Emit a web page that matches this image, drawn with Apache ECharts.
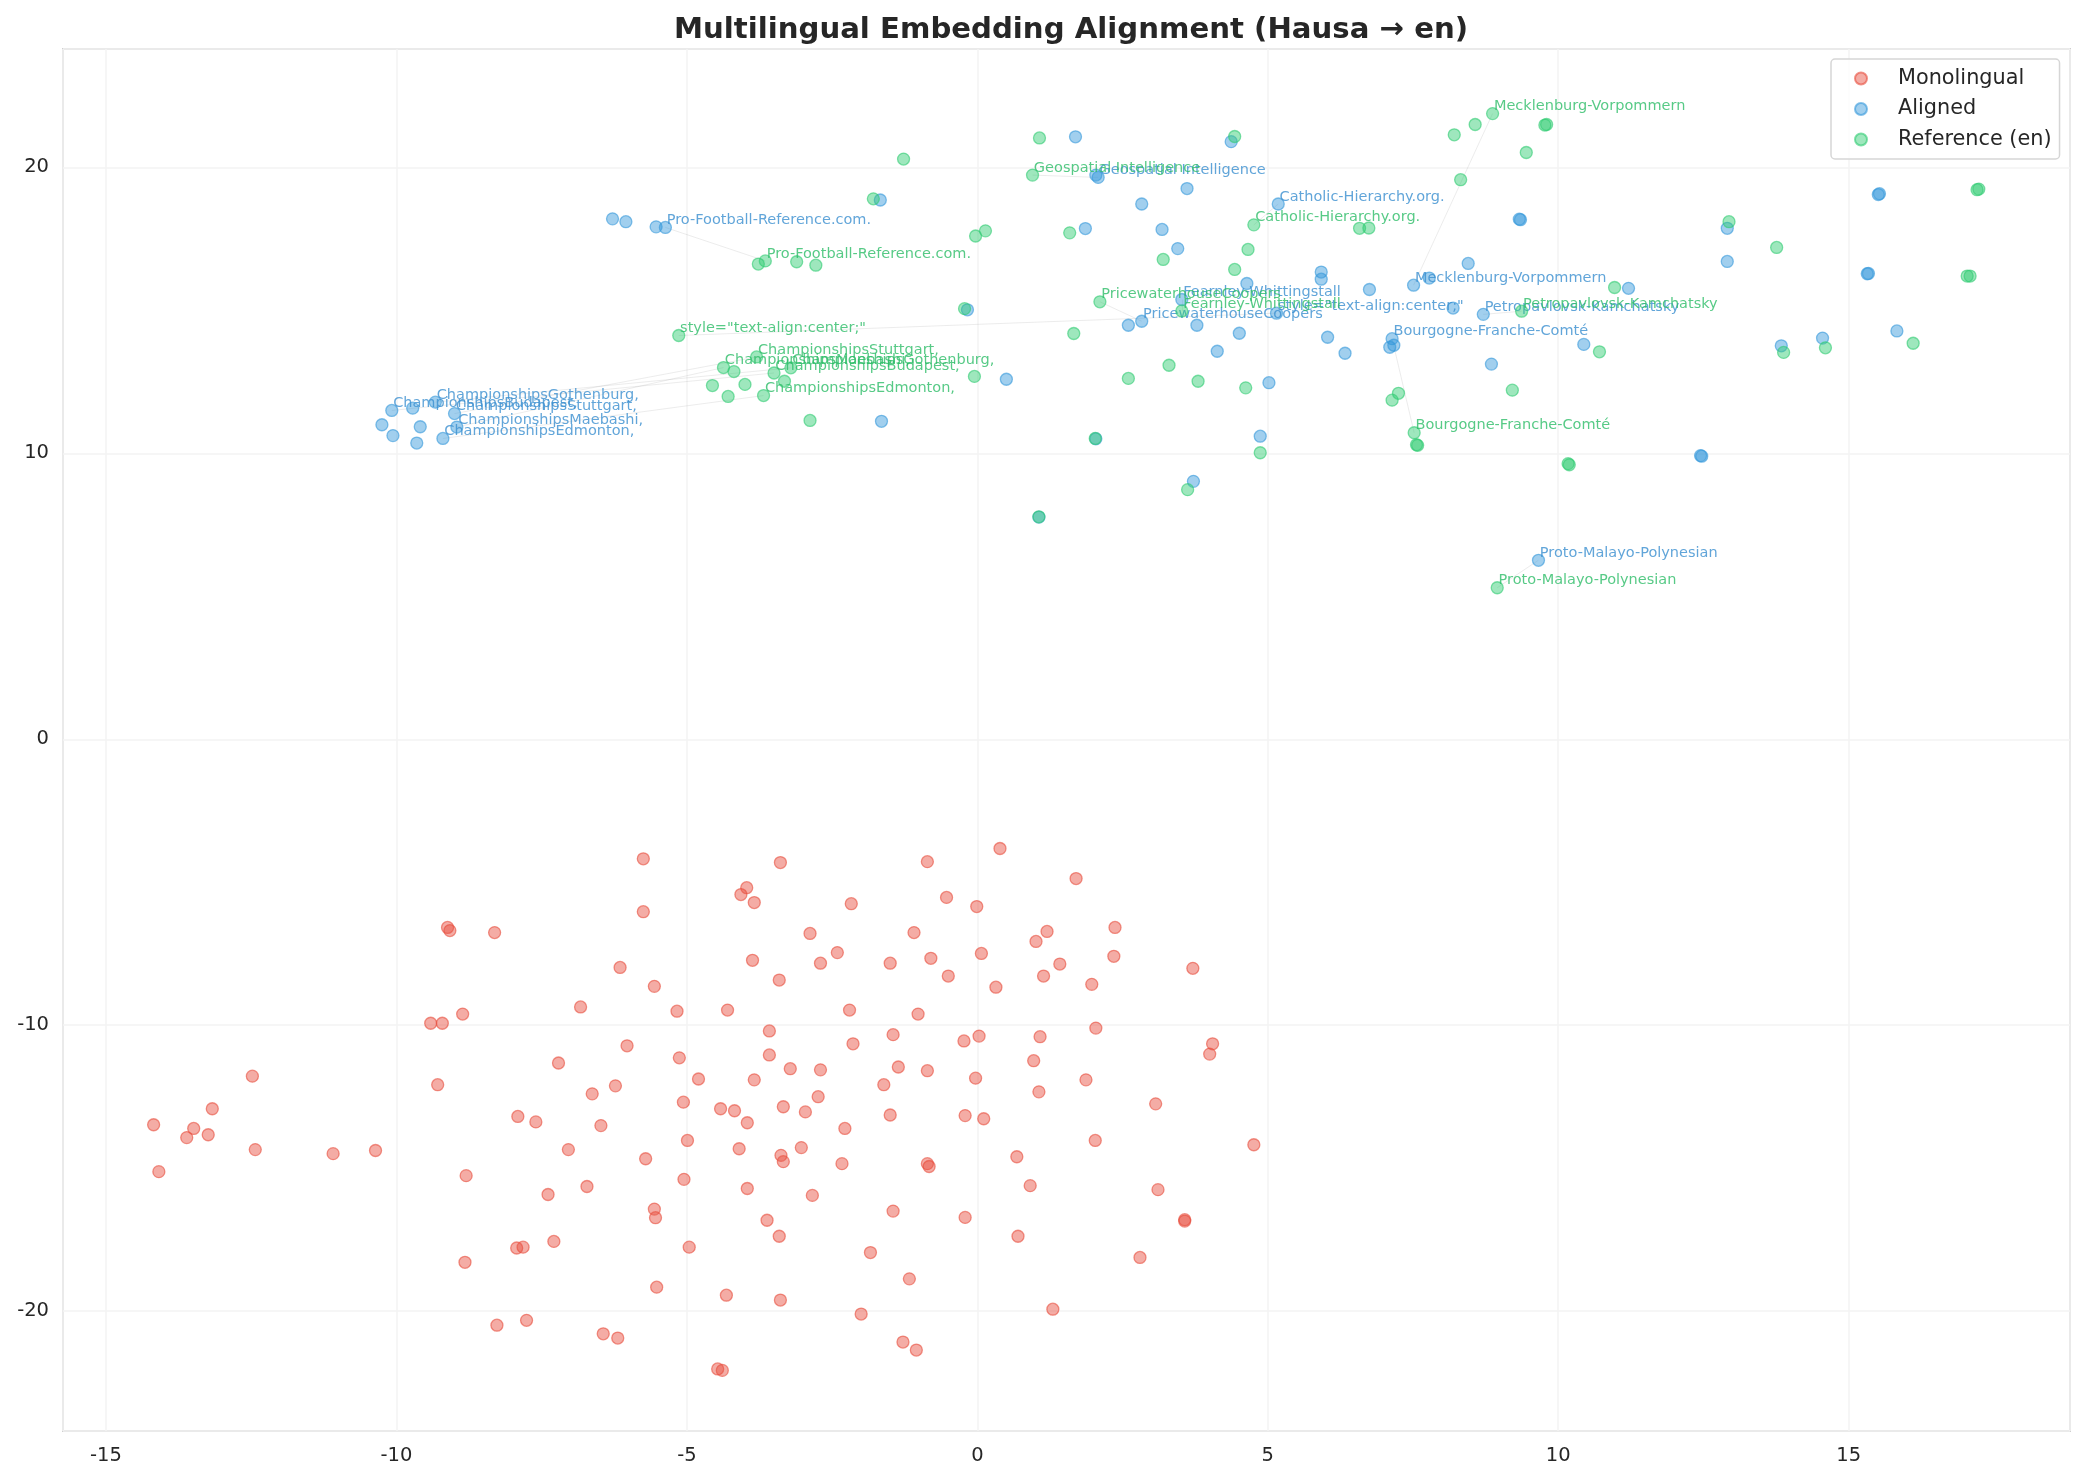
<!DOCTYPE html>
<html><head><meta charset="utf-8">
<script src="https://cdn.jsdelivr.net/npm/echarts@6/dist/echarts.min.js"></script>
<style>html,body{margin:0;padding:0;background:#fff}#c{width:2085px;height:1483px}</style>
</head><body><div id="c"></div>
<script>
// ---- Monolingual (Hausa) points ----
const monoX = [-5.75,-5.75,-9.12,-9.08,-8.31,-6.15,-5.56,-6.83,-5.17,-8.86,-9.41,-9.21,-6.03,-5.13,-7.21,-12.48,-9.29,-6.23,-4.80,-6.63,-5.06,-13.17,-7.91,-14.18,-7.60,-13.49,-6.48,-13.61,-13.24,-4.99,-12.43,-11.09,-10.36,-7.04,-5.71,-14.09,-8.80,-5.05,-6.72,-7.39,-5.56,-5.54,-7.29,-7.93,-7.82,-4.96,-8.82,-5.52,-8.27,-7.76,-6.44,-6.19,
-3.39,-0.86,0.39,1.70,-3.97,-4.07,-3.84,-2.17,-0.53,-0.01,-2.88,-1.09,1.20,1.01,2.37,-3.87,-2.70,-2.41,-1.50,-0.80,0.07,1.42,2.35,3.71,-3.41,-0.50,1.14,0.32,1.97,-4.30,-2.20,-1.02,-3.58,-1.45,-2.14,-0.23,0.03,1.08,2.04,4.05,4.00,-3.58,-3.22,-2.70,-1.36,-0.86,0.97,-3.84,-1.61,-0.03,1.87,1.06,-2.74,-4.42,-4.18,-3.34,-2.96,-3.96,-1.50,-0.21,0.11,3.07,-2.28,-4.10,-3.38,-3.34,-3.03,-2.33,-0.86,-0.83,0.68,2.03,4.76,-3.96,-2.84,0.91,3.11,-1.45,-0.21,-3.62,-3.41,0.70,3.57,3.57,-1.84,2.80,-1.17,-4.32,-3.39,-2.00,1.30,-1.28,-1.05,-4.47,-4.39];
const monoY = [-4.18,-6.03,-6.58,-6.69,-6.76,-7.98,-8.64,-9.36,-9.51,-9.61,-9.93,-9.93,-10.72,-11.14,-11.32,-11.78,-12.08,-12.12,-11.88,-12.40,-12.69,-12.92,-13.19,-13.48,-13.38,-13.61,-13.51,-13.93,-13.83,-14.03,-14.35,-14.49,-14.38,-14.35,-14.67,-15.12,-15.26,-15.39,-15.64,-15.92,-16.43,-16.73,-17.56,-17.79,-17.76,-17.76,-18.29,-19.16,-20.49,-20.32,-20.79,-20.94,
-4.31,-4.28,-3.82,-4.87,-5.19,-5.43,-5.71,-5.75,-5.53,-5.85,-6.79,-6.76,-6.72,-7.07,-6.58,-7.73,-7.83,-7.46,-7.83,-7.66,-7.49,-7.86,-7.59,-8.01,-8.42,-8.28,-8.28,-8.67,-8.57,-9.47,-9.47,-9.61,-10.20,-10.33,-10.65,-10.55,-10.38,-10.40,-10.10,-10.65,-11.01,-11.04,-11.52,-11.56,-11.46,-11.59,-11.24,-11.91,-12.08,-11.85,-11.91,-12.33,-12.50,-12.92,-12.99,-12.85,-13.03,-13.41,-13.14,-13.16,-13.27,-12.75,-13.61,-14.32,-14.55,-14.77,-14.28,-14.84,-14.84,-14.94,-14.60,-14.03,-14.18,-15.71,-15.95,-15.61,-15.75,-16.50,-16.72,-16.82,-17.38,-17.38,-16.85,-16.80,-17.95,-18.12,-18.87,-19.44,-19.61,-20.10,-19.93,-21.08,-21.36,-22.02,-22.07];

// ---- Aligned points (unlabeled) ----
const alignedX = [-6.28,-6.05,-5.53,-9.72,-10.25,-9.59,-10.06,-9.65,-1.67,1.69,2.04,2.83,1.86,3.18,-0.17,2.60,0.50,-1.65,2.04,1.06,4.37,3.61,3.45,4.64,5.92,5.92,6.75,7.78,8.45,9.33,9.35,8.19,3.78,4.51,4.13,5.02,6.03,6.33,7.10,7.17,8.85,10.44,11.21,4.87,12.45,12.47,3.72,15.53,15.51,12.91,12.91,15.32,15.34,15.83,13.84,14.55];
const alignedY = [18.20,18.10,17.92,11.58,11.00,10.93,10.62,10.36,18.86,21.07,19.73,18.72,17.86,17.83,15.02,14.48,12.59,11.12,10.51,7.77,20.90,19.26,17.16,15.94,16.34,16.09,15.73,16.13,16.64,18.19,18.17,15.08,14.48,14.20,13.57,12.47,14.06,13.50,13.71,13.78,13.12,13.81,15.77,10.60,9.92,9.90,9.02,19.08,19.05,17.87,16.71,16.28,16.29,14.28,13.76,14.03];

// ---- Reference (en) points (unlabeled) ----
const refX = [-1.27,1.07,-1.79,-0.03,0.14,1.59,-3.77,-3.11,-2.78,-0.22,1.66,-4.19,-3.32,-4.56,-4.00,-4.29,-0.05,2.60,-2.88,2.03,1.06,4.43,8.57,8.21,9.77,9.80,9.45,8.32,6.58,6.74,4.66,3.20,4.43,3.30,3.80,4.62,7.14,7.25,7.56,7.58,4.87,9.21,10.71,10.97,10.17,10.19,3.62,12.94,13.76,17.24,17.21,17.04,17.09,16.11,13.88,14.60];
const refY = [20.29,21.03,18.90,17.60,17.78,17.71,16.62,16.70,16.58,15.06,14.19,12.86,12.52,12.37,12.41,11.99,12.69,12.62,11.15,10.52,7.78,21.08,21.50,21.14,21.48,21.50,20.52,19.57,17.87,17.88,17.13,16.78,16.43,13.08,12.52,12.29,11.86,12.10,10.30,10.28,10.02,12.21,13.55,15.80,9.64,9.60,8.73,18.10,17.20,19.24,19.22,16.20,16.20,13.85,13.53,13.69];

// ---- Labeled word pairs ----
const words = ["Pro-Football-Reference.com.","Geospatial Intelligence","Catholic-Hierarchy.org.","Mecklenburg-Vorpommern","PricewaterhouseCoopers","Fearnley-Whittingstall","style=\"text-align:center;\"","Petropavlovsk-Kamchatsky","Bourgogne-Franche-Comté","Proto-Malayo-Polynesian","ChampionshipsStuttgart,","ChampionshipsBudapest,","ChampionshipsGothenburg,","ChampionshipsMaebashi,","ChampionshipsEdmonton,"];
const wordAlignedX = [-5.37,2.08,5.18,7.51,2.83,3.52,5.15,8.71,7.14,9.66,-9.00,-10.08,-9.33,-8.96,-9.20];
const wordAlignedY = [17.90,19.65,18.72,15.88,14.62,15.38,14.90,14.86,14.01,6.26,11.39,11.50,11.79,10.92,10.52];
const wordRefX = [-3.65,0.95,4.76,8.87,2.11,3.52,-5.14,9.37,7.52,8.95,-3.80,-3.50,-3.21,-4.37,-3.68];
const wordRefY = [16.73,19.73,17.99,21.88,15.30,14.98,14.12,14.97,10.72,5.30,13.37,12.81,12.99,13.00,12.02];

const xTicks = [-15,-10,-5,0,5,10,15];
const yTicks = [-20,-10,0,10,20];

const FONT = 'DejaVu Sans';
const cRed = [231,76,60], cBlue = [52,152,219], cGreen = [46,204,113];
const rgba = (c,a) => `rgba(${c[0]},${c[1]},${c[2]},${a})`;
const SYM = 12;

function plain(xs, ys){ return xs.map((x,i)=>[x, ys[i]]); }
function labeled(xs, ys, color){
  return xs.map((x,i)=>({value:[x, ys[i]], name: words[i],
    label:{show:true, formatter: words[i], position:[SYM/2+2, SYM/2-6.5], align:'left', verticalAlign:'middle',
      fontFamily: FONT, fontSize: 14.5, color: color}}));
}
function pointStyle(c){ return {color: rgba(c,0.58), borderColor: rgba(c,0.75), borderWidth: 1.3}; }

const chart = echarts.init(document.getElementById('c'), null, {renderer:'canvas'});
chart.setOption({
  animation: false,
  backgroundColor: '#fff',
  title: {text: 'Multilingual Embedding Alignment (Hausa → en)', left: 1066, top: 11, textAlign: 'center',
    textStyle: {fontFamily: FONT, fontSize: 29.2, fontWeight: 'bold', color: '#262626'}},
  legend: {
    data: ['Monolingual','Aligned','Reference (en)'],
    orient: 'vertical', left: 1831, top: 59,
    padding: [9, 8, 9, 23], itemGap: 9.5,
    itemWidth: 12, itemHeight: 12, icon: 'circle',
    borderColor: '#d6d6d6', borderWidth: 1.5, borderRadius: 4, backgroundColor: 'rgba(255,255,255,0.8)',
    formatter: n => '{a|' + n + '}',
    textStyle: {fontFamily: FONT, fontSize: 20.8, color: '#262626', lineHeight: 21,
      rich: {a: {fontFamily: FONT, fontSize: 20.8, color: '#262626', lineHeight: 21, padding: [0,0,0,26]}}}
  },
  grid: {left: 63, top: 49, width: 2007, height: 1382, show: true, borderColor: '#cfcfcf', borderWidth: 2, backgroundColor: 'transparent'},
  xAxis: {type: 'value', min: -15.74, max: 18.81, splitNumber: 7, minInterval: 5, maxInterval: 5,
    axisLine: {show: false}, axisTick: {show: false},
    axisLabel: {showMinLabel: false, showMaxLabel: false, margin: 15, fontFamily: FONT, fontSize: 19.5, color: '#262626',
      formatter: v => xTicks.includes(v) ? String(v) : ''},
    splitLine: {show: true, lineStyle: {color: '#f3f3f3', width: 1.5}}},
  yAxis: {type: 'value', min: -24.19, max: 24.14, splitNumber: 5, minInterval: 10, maxInterval: 10,
    axisLine: {show: false}, axisTick: {show: false},
    axisLabel: {showMinLabel: false, showMaxLabel: false, margin: 14, fontFamily: FONT, fontSize: 19.5, color: '#262626',
      formatter: v => yTicks.includes(v) ? String(v) : ''},
    splitLine: {show: true, lineStyle: {color: '#f3f3f3', width: 1.5}}},
  series: [
    {name: 'Monolingual', type: 'scatter', symbol: 'circle', symbolSize: SYM, itemStyle: pointStyle(cRed),
      data: plain(monoX, monoY), z: 2},
    {name: 'Aligned', type: 'scatter', symbol: 'circle', symbolSize: SYM, itemStyle: pointStyle(cBlue),
      data: plain(alignedX, alignedY).concat(labeled(wordAlignedX, wordAlignedY, '#3a8fd0')), z: 3},
    {name: 'Reference (en)', type: 'scatter', symbol: 'circle', symbolSize: SYM, itemStyle: pointStyle(cGreen),
      data: plain(refX, refY).concat(labeled(wordRefX, wordRefY, '#2dbd68')), z: 4},
    {name: 'links', type: 'lines', coordinateSystem: 'cartesian2d', silent: true, z: 1,
      lineStyle: {color: 'rgba(150,150,150,0.35)', width: 1},
      data: words.map((w,i)=>({coords: [[wordAlignedX[i], wordAlignedY[i]], [wordRefX[i], wordRefY[i]]]}))}
  ]
});
</script></body></html>
